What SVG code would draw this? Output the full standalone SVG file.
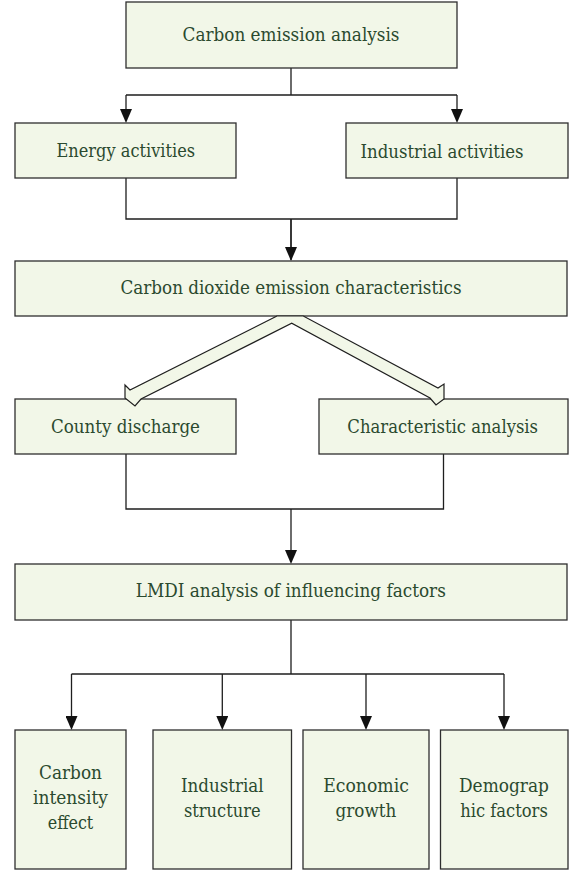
<svg xmlns="http://www.w3.org/2000/svg" width="572" height="870" viewBox="0 0 572 870">
<style>
.box{fill:#f2f7e8;stroke:#2e2e2e;stroke-width:1.3}
text{font-family:'DejaVu Serif',serif;font-size:18.5px;fill:#2b4a2f;text-anchor:middle}
.ln{fill:none;stroke:#1e1e1e;stroke-width:1.3}
.arr{marker-end:url(#ah)}
.hollow{fill:#f2f7e8;stroke:#1e1e1e;stroke-width:1.2;stroke-linejoin:miter}
</style>
<defs>
<marker id="ah" viewBox="0 0 14 12" refX="11" refY="6" markerWidth="14" markerHeight="12" markerUnits="userSpaceOnUse" orient="auto">
<path d="M0,0 L14,6 L0,12 z" fill="#111"/>
</marker>
</defs>
<rect width="572" height="870" fill="#ffffff"/>
<g id="connectors">
<path class="ln" d="M291,68 V95 M126,95 H457 M291,219 V260 M126,178 V219 H457 V178 M126,454 V509 H443.5 V454 M291,620 V674 M71.5,674 H504"/>
<path class="ln arr" d="M126,95 V120"/>
<path class="ln arr" d="M457,95 V120"/>
<path class="ln arr" d="M291,219 V258"/>
<path class="ln arr" d="M291,509 V561"/>
<path class="ln arr" d="M71.5,674 V727"/>
<path class="ln arr" d="M222.3,674 V727"/>
<path class="ln arr" d="M366,674 V727"/>
<path class="ln arr" d="M504,674 V727"/>
</g>
<g id="n1"><rect class="box" x="126" y="2" width="331" height="66"/><text x="291" y="41" textLength="217" lengthAdjust="spacingAndGlyphs">Carbon emission analysis</text></g>
<g id="n2"><rect class="box" x="15" y="123" width="221" height="55"/><text x="125.8" y="156.5" textLength="138.5" lengthAdjust="spacingAndGlyphs">Energy activities</text></g>
<g id="n3"><rect class="box" x="346" y="123" width="222" height="55"/><text x="442" y="157.5" textLength="163" lengthAdjust="spacingAndGlyphs">Industrial activities</text></g>
<g id="n4"><rect class="box" x="15" y="261" width="552" height="55"/><text x="291" y="293.5" textLength="341" lengthAdjust="spacingAndGlyphs">Carbon dioxide emission characteristics</text></g>
<g id="n5"><rect class="box" x="15" y="399" width="221" height="55"/><text x="125.5" y="432.5" textLength="149" lengthAdjust="spacingAndGlyphs">County discharge</text></g>
<g id="n6"><rect class="box" x="319" y="399" width="249" height="55"/><text x="442.7" y="432.5" textLength="190.7" lengthAdjust="spacingAndGlyphs">Characteristic analysis</text></g>
<g id="n7"><rect class="box" x="15" y="564" width="552" height="56"/><text x="290.8" y="597" textLength="310" lengthAdjust="spacingAndGlyphs">LMDI analysis of influencing factors</text></g>
<g id="n8"><rect class="box" x="15" y="730" width="111" height="139"/><text x="70.5" y="779" textLength="63" lengthAdjust="spacingAndGlyphs">Carbon</text><text x="70.5" y="804" textLength="75" lengthAdjust="spacingAndGlyphs">intensity</text><text x="70.5" y="829" textLength="45.6" lengthAdjust="spacingAndGlyphs">effect</text></g>
<g id="n9"><rect class="box" x="153" y="730" width="138.5" height="139"/><text x="222.3" y="792" textLength="82.8" lengthAdjust="spacingAndGlyphs">Industrial</text><text x="222.3" y="817" textLength="76.7" lengthAdjust="spacingAndGlyphs">structure</text></g>
<g id="n10"><rect class="box" x="303" y="730" width="126" height="139"/><text x="366" y="792" textLength="85.7" lengthAdjust="spacingAndGlyphs">Economic</text><text x="366" y="817" textLength="60.8" lengthAdjust="spacingAndGlyphs">growth</text></g>
<g id="n11"><rect class="box" x="440.5" y="730" width="127.5" height="139"/><text x="504" y="792" textLength="90" lengthAdjust="spacingAndGlyphs">Demograp</text><text x="504" y="817" textLength="87.6" lengthAdjust="spacingAndGlyphs">hic factors</text></g>
<g id="split-arrows">
<path class="hollow" d="M277,316 L130,390 L125,385 L125,398 L135,406 L141,399 L291.7,323.3 L430,398 L436,405 L444,399 L444,384 L438,388 L303.3,316 Z"/>
</g>
</svg>
